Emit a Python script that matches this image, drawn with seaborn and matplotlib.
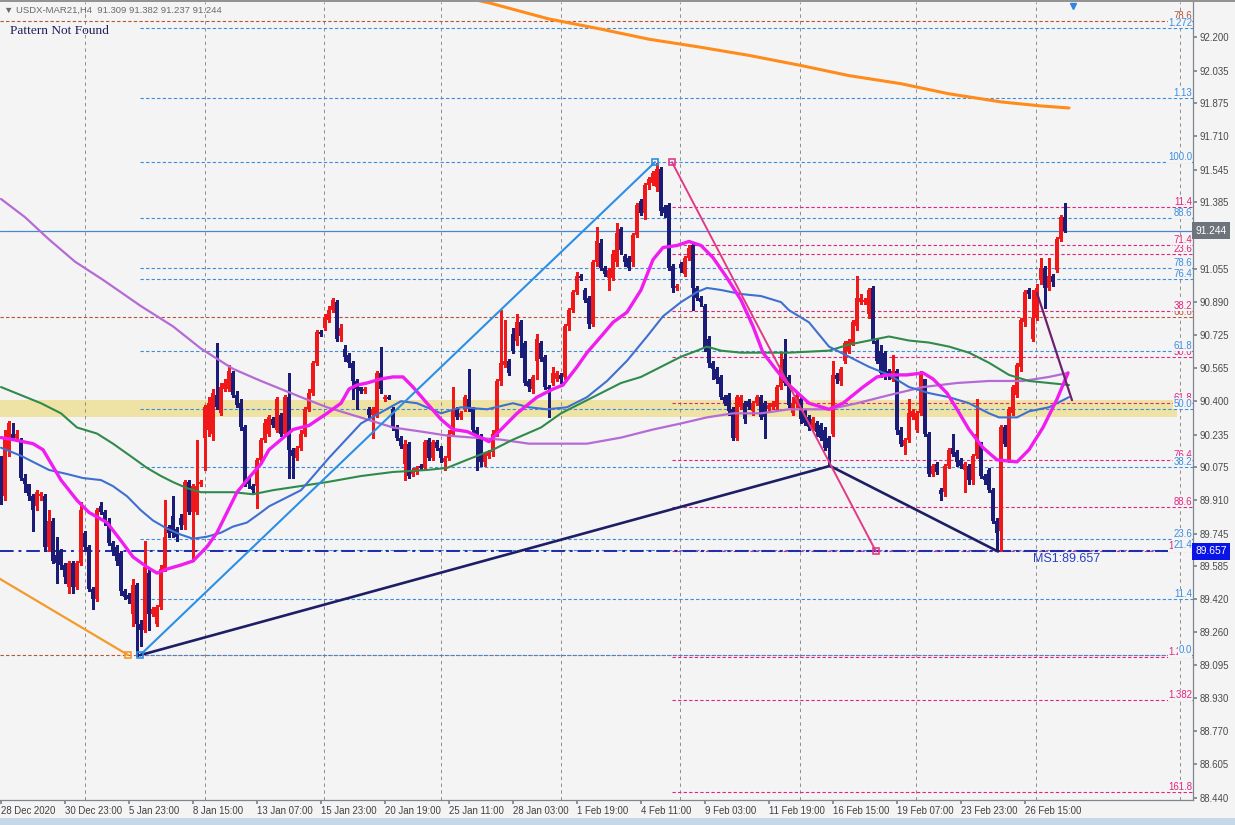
import numpy as np
import pandas as pd
import matplotlib
matplotlib.use("Agg")
import matplotlib.pyplot as plt
import seaborn as sns
from matplotlib.patches import Rectangle
from matplotlib.lines import Line2D

# ---- candles (USDX-MAR21, H4), one entry per bar ----
opens = [
    90.11, 89.93, 90.16, 90.24, 90.22, 90.21, 90.02, 89.99, 89.93, 89.88,
    89.93, 89.93, 89.68, 89.81, 89.64, 89.66, 89.59, 89.48, 89.60, 89.48,
    89.60, 89.75, 89.68, 89.47, 89.42, 89.88, 89.85, 89.81, 89.70, 89.68,
    89.65, 89.46, 89.44, 89.35, 89.49, 89.30, 89.27, 89.55, 89.35, 89.30,
    89.38, 89.57, 89.78, 89.83, 89.77, 89.82, 89.79, 90.00, 89.85, 89.85,
    89.99, 90.22, 90.26, 90.24, 90.43, 90.34, 90.46, 90.46, 90.54, 90.43,
    90.39, 90.27, 90.02, 89.98, 89.98, 90.11, 90.21, 90.24, 90.31, 90.26,
    90.33, 90.24, 90.42, 90.16, 90.12, 90.17, 90.24, 90.36, 90.44, 90.59,
    90.74, 90.76, 90.80, 90.85, 90.89, 90.72, 90.66, 90.63, 90.59, 90.50,
    90.47, 90.45, 90.36, 90.33, 90.33, 90.54, 90.41, 90.42, 90.36, 90.27,
    90.22, 90.09, 90.19, 90.04, 90.05, 90.08, 90.07, 90.21, 90.12, 90.20,
    90.17, 90.10, 90.12, 90.24, 90.36, 90.32, 90.36, 90.41, 90.36, 90.26,
    90.23, 90.10, 90.13, 90.15, 90.24, 90.50, 90.58, 90.60, 90.73, 90.70,
    90.79, 90.69, 90.50, 90.46, 90.60, 90.69, 90.62, 90.47, 90.49, 90.51,
    90.53, 90.52, 90.77, 90.85, 90.94, 91.02, 90.95, 90.91, 90.78, 91.09,
    91.18, 91.06, 91.01, 91.01, 91.09, 91.25, 91.12, 91.11, 91.09, 91.22,
    91.39, 91.33, 91.47, 91.48, 91.46, 91.55, 91.36, 91.37, 91.07, 90.96,
    91.08, 91.03, 91.11, 91.17, 90.96, 90.91, 90.87, 90.71, 90.59, 90.56,
    90.52, 90.42, 90.43, 90.36, 90.22, 90.37, 90.39, 90.40, 90.35, 90.39,
    90.42, 90.39, 90.36, 90.37, 90.37, 90.47, 90.61, 90.52, 90.34, 90.39,
    90.41, 90.35, 90.32, 90.27, 90.29, 90.28, 90.26, 90.22, 90.24, 90.53,
    90.50, 90.60, 90.65, 90.69, 90.77, 90.89, 90.89, 90.83, 90.96, 90.70,
    90.65, 90.64, 90.55, 90.51, 90.55, 90.26, 90.18, 90.21, 90.32, 90.26,
    90.34, 90.51, 90.24, 90.04, 90.09, 89.96, 89.95, 90.08, 90.17, 90.15,
    90.11, 90.06, 90.08, 90.01, 90.13, 90.19, 90.03, 90.06, 89.96, 89.81,
    89.76, 90.27, 90.11, 90.34, 90.43, 90.57, 90.79, 90.95, 90.71, 90.81,
    91.00, 91.06, 90.96, 91.02, 91.05, 91.20, 91.309,
]
highs = [
    90.13, 90.26, 90.30, 90.29, 90.26, 90.22, 90.04, 89.99, 89.94, 89.96,
    89.95, 89.94, 89.86, 89.82, 89.73, 89.67, 89.60, 89.61, 89.61, 89.61,
    89.90, 89.76, 89.69, 89.48, 89.87, 89.90, 89.86, 89.82, 89.71, 89.69,
    89.66, 89.47, 89.45, 89.52, 89.50, 89.32, 89.71, 89.57, 89.38, 89.39,
    89.59, 89.91, 89.79, 89.93, 89.78, 89.84, 90.01, 90.01, 89.99, 90.21,
    90.01, 90.38, 90.42, 90.46, 90.69, 90.49, 90.51, 90.58, 90.55, 90.45,
    90.41, 90.28, 90.03, 89.99, 90.12, 90.22, 90.31, 90.33, 90.32, 90.42,
    90.34, 90.43, 90.54, 90.17, 90.18, 90.26, 90.37, 90.46, 90.60, 90.75,
    90.75, 90.83, 90.87, 90.91, 90.90, 90.78, 90.68, 90.64, 90.60, 90.51,
    90.47, 90.47, 90.37, 90.37, 90.55, 90.67, 90.43, 90.43, 90.37, 90.28,
    90.23, 90.21, 90.20, 90.07, 90.08, 90.09, 90.21, 90.22, 90.21, 90.21,
    90.18, 90.13, 90.26, 90.47, 90.37, 90.35, 90.43, 90.56, 90.37, 90.27,
    90.24, 90.15, 90.16, 90.26, 90.51, 90.85, 90.80, 90.61, 90.76, 90.83,
    90.80, 90.70, 90.51, 90.53, 90.73, 90.70, 90.63, 90.48, 90.57, 90.55,
    90.54, 90.78, 90.86, 90.95, 91.04, 91.03, 90.96, 90.92, 91.10, 91.26,
    91.20, 91.07, 91.06, 91.15, 91.28, 91.26, 91.13, 91.12, 91.23, 91.38,
    91.40, 91.48, 91.51, 91.54, 91.58, 91.56, 91.37, 91.38, 91.08, 90.98,
    91.09, 91.12, 91.17, 91.18, 90.97, 90.92, 90.88, 90.72, 90.60, 90.57,
    90.53, 90.43, 90.44, 90.37, 90.43, 90.43, 90.40, 90.41, 90.40, 90.43,
    90.43, 90.40, 90.39, 90.40, 90.48, 90.64, 90.71, 90.53, 90.42, 90.44,
    90.42, 90.36, 90.33, 90.32, 90.30, 90.29, 90.27, 90.23, 90.60, 90.54,
    90.57, 90.70, 90.71, 90.80, 91.02, 90.93, 90.91, 90.96, 90.97, 90.71,
    90.68, 90.65, 90.56, 90.63, 90.56, 90.27, 90.22, 90.41, 90.36, 90.35,
    90.55, 90.51, 90.25, 90.09, 90.10, 89.97, 90.09, 90.17, 90.24, 90.16,
    90.12, 90.10, 90.09, 90.14, 90.41, 90.20, 90.04, 90.07, 89.97, 89.82,
    90.28, 90.28, 90.37, 90.48, 90.59, 90.81, 90.95, 90.96, 90.95, 90.98,
    91.11, 91.07, 91.11, 91.03, 91.21, 91.32, 91.382,
]
lows = [
    89.89, 89.91, 90.13, 90.21, 90.21, 90.01, 89.95, 89.91, 89.76, 89.86,
    89.91, 89.66, 89.66, 89.60, 89.50, 89.57, 89.50, 89.45, 89.45, 89.47,
    89.59, 89.66, 89.46, 89.37, 89.41, 89.84, 89.79, 89.69, 89.64, 89.59,
    89.44, 89.42, 89.40, 89.29, 89.14, 89.19, 89.26, 89.27, 89.34, 89.29,
    89.37, 89.56, 89.73, 89.73, 89.71, 89.77, 89.77, 89.84, 89.61, 89.84,
    89.98, 90.06, 90.23, 90.21, 90.36, 90.33, 90.45, 90.45, 90.42, 90.37,
    90.26, 89.98, 89.97, 89.94, 89.87, 90.10, 90.20, 90.23, 90.27, 90.25,
    90.23, 90.23, 90.02, 90.02, 90.11, 90.16, 90.23, 90.35, 90.43, 90.58,
    90.72, 90.75, 90.79, 90.84, 90.70, 90.70, 90.60, 90.57, 90.41, 90.36,
    90.44, 90.44, 90.32, 90.22, 90.32, 90.44, 90.40, 90.41, 90.26, 90.21,
    90.17, 90.01, 90.02, 90.03, 90.04, 90.06, 90.06, 90.11, 90.11, 90.16,
    90.10, 90.06, 90.11, 90.23, 90.31, 90.31, 90.35, 90.35, 90.25, 90.06,
    90.08, 90.08, 90.12, 90.13, 90.23, 90.48, 90.57, 90.53, 90.64, 90.68,
    90.62, 90.48, 90.45, 90.44, 90.51, 90.60, 90.46, 90.32, 90.48, 90.50,
    90.49, 90.51, 90.75, 90.84, 90.93, 91.00, 90.89, 90.76, 90.77, 91.07,
    91.05, 91.02, 90.95, 91.00, 91.07, 91.13, 91.07, 91.05, 91.07, 91.21,
    91.32, 91.30, 91.45, 91.47, 91.44, 91.32, 91.31, 91.05, 90.94, 90.95,
    91.04, 91.02, 91.10, 90.85, 90.90, 90.87, 90.65, 90.57, 90.51, 90.49,
    90.41, 90.38, 90.33, 90.21, 90.21, 90.36, 90.29, 90.36, 90.33, 90.38,
    90.31, 90.22, 90.35, 90.36, 90.36, 90.46, 90.48, 90.37, 90.33, 90.37,
    90.29, 90.28, 90.26, 90.26, 90.23, 90.21, 90.16, 90.08, 90.23, 90.49,
    90.48, 90.59, 90.64, 90.68, 90.75, 90.88, 90.88, 90.81, 90.69, 90.59,
    90.52, 90.51, 90.51, 90.50, 90.24, 90.18, 90.14, 90.20, 90.31, 90.25,
    90.33, 90.23, 90.03, 90.03, 90.04, 89.91, 89.93, 90.07, 90.13, 90.08,
    90.07, 89.95, 89.99, 89.99, 90.12, 90.02, 89.99, 89.95, 89.80, 89.66,
    89.66, 90.18, 90.10, 90.33, 90.42, 90.55, 90.77, 90.91, 90.70, 90.80,
    90.98, 90.86, 90.95, 90.97, 91.04, 91.19, 91.237,
]
closes = [
    89.91, 90.22, 90.29, 90.22, 90.24, 90.02, 89.99, 89.93, 89.86, 89.95,
    89.94, 89.68, 89.81, 89.61, 89.60, 89.59, 89.53, 89.60, 89.48, 89.60,
    89.86, 89.68, 89.47, 89.42, 89.86, 89.85, 89.81, 89.70, 89.66, 89.61,
    89.46, 89.43, 89.42, 89.49, 89.30, 89.27, 89.58, 89.35, 89.37, 89.38,
    89.57, 89.73, 89.75, 89.75, 89.73, 89.79, 90.00, 89.85, 89.98, 89.98,
    90.00, 90.37, 90.39, 90.44, 90.37, 90.47, 90.49, 90.55, 90.43, 90.38,
    90.27, 89.99, 89.99, 89.96, 90.11, 90.21, 90.29, 90.32, 90.28, 90.41,
    90.24, 90.42, 90.16, 90.13, 90.17, 90.24, 90.36, 90.44, 90.59, 90.74,
    90.73, 90.81, 90.85, 90.90, 90.71, 90.76, 90.62, 90.59, 90.50, 90.46,
    90.45, 90.46, 90.33, 90.36, 90.54, 90.46, 90.42, 90.41, 90.27, 90.22,
    90.18, 90.19, 90.03, 90.06, 90.07, 90.07, 90.20, 90.12, 90.20, 90.17,
    90.12, 90.12, 90.24, 90.36, 90.32, 90.34, 90.42, 90.36, 90.26, 90.23,
    90.10, 90.14, 90.15, 90.24, 90.50, 90.59, 90.60, 90.54, 90.65, 90.79,
    90.72, 90.49, 90.47, 90.52, 90.71, 90.61, 90.47, 90.46, 90.54, 90.54,
    90.51, 90.77, 90.85, 90.94, 91.02, 91.01, 90.90, 90.78, 91.09, 91.19,
    91.06, 91.03, 91.05, 91.13, 91.23, 91.15, 91.09, 91.06, 91.22, 91.37,
    91.33, 91.47, 91.50, 91.53, 91.55, 91.34, 91.33, 91.06, 90.96, 90.97,
    91.06, 91.11, 91.16, 90.96, 90.91, 90.89, 90.67, 90.59, 90.56, 90.51,
    90.42, 90.39, 90.35, 90.22, 90.42, 90.42, 90.31, 90.37, 90.39, 90.42,
    90.32, 90.32, 90.38, 90.39, 90.47, 90.58, 90.49, 90.38, 90.39, 90.43,
    90.31, 90.29, 90.27, 90.31, 90.25, 90.22, 90.17, 90.17, 90.53, 90.51,
    90.56, 90.69, 90.70, 90.79, 90.91, 90.91, 90.90, 90.95, 90.70, 90.60,
    90.54, 90.53, 90.53, 90.55, 90.26, 90.19, 90.21, 90.34, 90.35, 90.34,
    90.54, 90.24, 90.04, 90.08, 90.05, 89.94, 90.08, 90.16, 90.14, 90.10,
    90.08, 90.09, 90.01, 90.13, 90.24, 90.03, 90.01, 89.96, 89.81, 89.75,
    90.27, 90.19, 90.36, 90.47, 90.58, 90.80, 90.94, 90.93, 90.81, 90.96,
    91.06, 90.96, 91.02, 90.99, 91.20, 91.31, 91.244,
]

# ---- moving averages, sampled along each line (bar, price) ----
mag_x = [0, 3, 8, 10.5, 15, 19, 22, 26.5, 30, 33, 36.5, 39, 41.5, 45, 48, 51.5, 54, 56.5, 59, 61.5,
         65, 67, 73, 77, 81.5, 85, 87, 89, 91.5, 95, 98, 100.5, 103, 106.5, 110, 113, 116.5, 120, 122, 125,
         129, 134, 138, 140.5, 144, 146.5, 150, 153, 156.5, 160, 163, 165.5, 169, 172, 175, 178, 181.5, 185, 188, 190.5,
         194, 197, 202, 207, 210.5, 215.5, 219, 222, 226.5, 230.5, 233, 236.5, 239, 242, 245.5, 249, 254, 257, 260.5, 264,
         266.75]
mag_y = [90.22, 90.21, 90.19, 90.16, 90.01, 89.91, 89.85, 89.80, 89.71, 89.63, 89.58, 89.55, 89.57, 89.59, 89.61, 89.68, 89.75, 89.85, 89.95, 90.01,
         90.09, 90.16, 90.26, 90.28, 90.34, 90.39, 90.46, 90.48, 90.49, 90.51, 90.52, 90.52, 90.47, 90.39, 90.31, 90.26, 90.25, 90.22, 90.20, 90.26,
         90.34, 90.42, 90.46, 90.48, 90.57, 90.64, 90.72, 90.79, 90.84, 90.95, 91.10, 91.16, 91.17, 91.19, 91.17, 91.11, 91.01, 90.90, 90.77, 90.64,
         90.55, 90.48, 90.39, 90.36, 90.39, 90.47, 90.52, 90.53, 90.53, 90.54, 90.51, 90.44, 90.36, 90.26, 90.17, 90.11, 90.10, 90.16, 90.27, 90.41,
         90.54]

blue_x = [0, 5, 8, 12, 16.5, 20.5, 25, 28, 31.5, 35, 38, 41.5, 45, 48, 51.5, 55, 58, 61.5, 65, 67,
          75, 82, 90, 100, 104, 110, 115, 121.5, 128, 132, 136.5, 141.5, 146.5, 151.5, 156.5, 161.5, 165.5, 170, 174, 176.5,
          180, 185, 190, 195, 197, 202, 207, 212, 217, 222, 227, 232, 237, 242, 247, 249.5, 254, 257, 262, 267]
blue_y = [90.17, 90.13, 90.10, 90.06, 90.04, 90.02, 90.01, 89.98, 89.93, 89.86, 89.81, 89.77, 89.74, 89.72, 89.73, 89.75, 89.78, 89.80, 89.85, 89.88,
          89.96, 90.12, 90.29, 90.40, 90.39, 90.34, 90.37, 90.36, 90.39, 90.37, 90.36, 90.37, 90.42, 90.50, 90.60, 90.72, 90.82, 90.89, 90.94, 90.96,
          90.95, 90.93, 90.92, 90.89, 90.85, 90.79, 90.67, 90.62, 90.57, 90.53, 90.47, 90.44, 90.42, 90.39, 90.34, 90.32, 90.32, 90.35, 90.37, 90.42]

green_x = [0, 5, 10, 15, 19, 24, 28, 33, 36.5, 40, 43, 46.5, 50, 54, 58, 63, 68, 81.5, 90, 98,
           106.5, 111.5, 116.5, 123, 128, 135, 140, 145, 150, 155, 160, 165, 170, 174, 176.5, 180, 185, 190, 197, 207,
           212, 217, 222, 227, 232, 237, 242, 247, 252, 257, 262, 267]
green_y = [90.47, 90.43, 90.39, 90.34, 90.27, 90.24, 90.19, 90.12, 90.07, 90.03, 90.00, 89.97, 89.95, 89.95, 89.95, 89.94, 89.96, 90.00, 90.03, 90.05,
           90.06, 90.07, 90.11, 90.16, 90.21, 90.27, 90.34, 90.39, 90.44, 90.49, 90.52, 90.57, 90.62, 90.65, 90.67, 90.65, 90.64, 90.64, 90.64, 90.65,
           90.68, 90.70, 90.72, 90.70, 90.69, 90.67, 90.64, 90.59, 90.53, 90.50, 90.49, 90.48]

purple_x = [0, 6, 12, 18.5, 25.5, 35, 43, 50, 58, 65, 70, 75, 81.5, 86.5, 91.5, 98, 105, 111.5, 118, 125,
            132, 138, 146.5, 155, 163, 170, 176.5, 183, 190, 197, 207, 214, 222, 230.5, 239, 247, 255.5, 262, 266.75]
purple_y = [91.40, 91.31, 91.20, 91.09, 91.00, 90.87, 90.77, 90.66, 90.56, 90.50, 90.46, 90.42, 90.37, 90.34, 90.31, 90.27, 90.25, 90.23, 90.22, 90.21,
            90.19, 90.19, 90.19, 90.22, 90.26, 90.29, 90.32, 90.34, 90.34, 90.36, 90.36, 90.39, 90.43, 90.47, 90.49, 90.50, 90.50, 90.52, 90.54]

orange_x = [115, 122, 137, 150, 162, 175, 187, 200, 212, 225, 237, 250, 260, 267]
orange_y = [92.40, 92.37, 92.29, 92.24, 92.19, 92.15, 92.11, 92.06, 92.01, 91.97, 91.92, 91.88, 91.86, 91.85]

# ---- drawn objects ----
zz_x, zz_y = [-1.0, 31.75], [89.53, 89.145]                          # orange zigzag leg
tl_blue_x, tl_blue_y = [34.75, 163.5], [89.144, 91.582]              # light blue trendline
tl_navy_x, tl_navy_y = [34.75, 207.25, 249.25], [89.144, 90.08, 89.657]
tl_pink_x, tl_pink_y = [167.75, 218.75], [91.582, 89.657]
tl_purple_x, tl_purple_y = [259.0, 267.75], [90.935, 90.405]

blue_fib_low, blue_fib_high = 89.144, 91.582
blue_fib_ratios = [0, 11.4, 21.4, 23.6, 38.2, 50.0, 61.8, 76.4, 78.6, 88.6, 100.0, 113.0, 127.2]
blue_fib_labels = ["0.0", "11.4", "21.4", "23.6", "38.2", "50.0", "61.8", "76.4", "78.6", "88.6", "100.0", "1.13", "1.272"]
pink_fib_high, pink_fib_low = 91.582, 89.657
pink_fib_ratios = [11.4, 23.6, 38.2, 50.0, 61.8, 76.4, 88.6, 100.0, 127.2, 138.2, 161.8]
pink_fib_labels = ["11.4", "23.6", "38.2", "50.0", "61.8", "76.4", "88.6", "100.0", "1.272", "1.382", "161.8"]
pink_extra_levels, pink_extra_labels = [91.172], ["71.4"]
brown_levels, brown_labels = [92.28, 90.816, 89.145], ["78.6", "66.6", ""]

band_low, band_high = 90.32, 90.406
last_price, ms1_price = 91.244, 89.657

x_tick_bars = [0, 16, 32, 48, 64, 80, 96, 112, 128, 144, 160, 176, 192, 208, 224, 240, 256]
x_tick_labels = ["28 Dec 2020", "30 Dec 23:00", "5 Jan 23:00", "8 Jan 15:00", "13 Jan 07:00", "15 Jan 23:00",
                 "20 Jan 19:00", "25 Jan 11:00", "28 Jan 03:00", "1 Feb 19:00", "4 Feb 11:00", "9 Feb 03:00",
                 "11 Feb 19:00", "16 Feb 15:00", "19 Feb 07:00", "23 Feb 23:00", "26 Feb 15:00"]
y_ticks = [92.200, 92.035, 91.875, 91.710, 91.545, 91.385, 91.220, 91.055, 90.890, 90.725, 90.565, 90.400,
           90.235, 90.075, 89.910, 89.745, 89.585, 89.420, 89.260, 89.095, 88.930, 88.770, 88.605, 88.440]
grid_bars = [21, 51, 80.75, 110, 140, 169.75, 199.75, 228.75, 258.75, 294.75]

# ---- style ----
BG = "#f4f4f4"
RED, NAVY = "#f01818", "#1b1b78"
FIB_BLUE, FIB_PINK, FIB_BROWN = "#3b8de0", "#e3247f", "#b5543a"
LBL = 6.9

sns.set_theme(style="white")
plt.rcParams["font.family"] = ["Liberation Sans", "DejaVu Sans"]

fig = plt.figure(figsize=(12.35, 8.25), dpi=100)
fig.patch.set_facecolor(BG)
ax = fig.add_axes([0, 25 / 825, 1193 / 1235, 798 / 825])
ax.set_facecolor(BG)
ax.set_xlim(-0.25, 298)
ax.set_ylim(88.428, 92.374)

# yellow zone and grid
ax.axhspan(band_low, band_high, xmin=0, xmax=294.25 / 298.25, color="#eee3a4", zorder=0.5, lw=0)
for gx in grid_bars:
    ax.axvline(gx, color="#8e8e8e", lw=0.7, ls=(0, (3.5, 3.5)), zorder=0.6)

# fibonacci levels
blue_levels = [blue_fib_low + r / 100 * (blue_fib_high - blue_fib_low) for r in blue_fib_ratios]
pink_levels = [pink_fib_high - r / 100 * (pink_fib_high - pink_fib_low) for r in pink_fib_ratios]
ax.hlines(brown_levels, -0.25, 298, colors=FIB_BROWN, lw=0.8, linestyles=(0, (3, 2)), zorder=1)
ax.hlines(blue_levels, 34.75, 298, colors=FIB_BLUE, lw=0.8, linestyles=(0, (3, 2)), zorder=1.2)
ax.hlines(pink_levels + pink_extra_levels, 167.75, 298, colors=FIB_PINK, lw=0.8, linestyles=(0, (3, 2)), zorder=1.3)
ax.axhline(ms1_price, color="#1c2bb0", lw=1.4, ls=(0, (7, 2.5, 1.5, 2.5)), zorder=1.4)
ax.axhline(last_price, color="#4a86d6", lw=0.9, zorder=1.4)

# level captions sit on their lines; later ones mask earlier ones as in the terminal
ytr = ax.get_yaxis_transform()
for val, lab in zip(brown_levels, brown_labels):
    if lab:
        ax.text(0.9992, val, lab, transform=ytr, ha="right", va="bottom", fontsize=LBL,
                color=FIB_BROWN, zorder=8, bbox=dict(fc=BG, ec="none", pad=0.3))
for val, lab in zip(pink_levels + pink_extra_levels, pink_fib_labels + pink_extra_labels):
    ax.text(0.9992, val, lab, transform=ytr, ha="right", va="bottom", fontsize=LBL,
            color=FIB_PINK, zorder=9, bbox=dict(fc=BG, ec="none", pad=0.3))
for val, lab in zip(blue_levels, blue_fib_labels):
    ax.text(0.9992, val, lab, transform=ytr, ha="right", va="bottom", fontsize=LBL,
            color=FIB_BLUE, zorder=10, bbox=dict(fc=BG, ec="none", pad=0.3))

# candles
df = pd.DataFrame({"o": opens, "h": highs, "l": lows, "c": closes})
df["bar"] = np.arange(len(df))
up = df["c"] >= df["o"]
cols = np.where(up, RED, NAVY)
ax.vlines(df["bar"], df["l"], df["h"], colors=cols, lw=0.8, zorder=3, antialiased=False)
ax.bar(df["bar"], (df["c"] - df["o"]).abs().clip(lower=0.006), bottom=np.minimum(df["o"], df["c"]),
       width=0.76, color=cols, linewidth=0, zorder=3.1, antialiased=False)

# moving averages
sns.lineplot(x=purple_x, y=purple_y, ax=ax, color="#b56ad6", lw=1.6, sort=False, estimator=None, zorder=4)
sns.lineplot(x=green_x, y=green_y, ax=ax, color="#2f8a4c", lw=1.5, sort=False, estimator=None, zorder=4.1)
sns.lineplot(x=blue_x, y=blue_y, ax=ax, color="#3f6fd0", lw=1.5, sort=False, estimator=None, zorder=4.2)
sns.lineplot(x=mag_x, y=mag_y, ax=ax, color="#f01cf0", lw=2.4, sort=False, estimator=None, zorder=4.3)
sns.lineplot(x=orange_x, y=orange_y, ax=ax, color="#ff8c1a", lw=2.2, sort=False, estimator=None, zorder=4.4)

# trendlines and anchors
sns.lineplot(x=zz_x, y=zz_y, ax=ax, color="#f39a2a", lw=1.6, sort=False, estimator=None, zorder=5)
sns.lineplot(x=tl_blue_x, y=tl_blue_y, ax=ax, color="#2c8fe6", lw=1.5, sort=False, estimator=None, zorder=5)
sns.lineplot(x=tl_navy_x, y=tl_navy_y, ax=ax, color="#1e1e66", lw=1.9, sort=False, estimator=None, zorder=5)
sns.lineplot(x=tl_pink_x, y=tl_pink_y, ax=ax, color="#e23a86", lw=1.4, sort=False, estimator=None, zorder=5)
sns.lineplot(x=tl_purple_x, y=tl_purple_y, ax=ax, color="#6e1f6e", lw=1.6, sort=False, estimator=None, zorder=5)
ax.plot(tl_blue_x, tl_blue_y, ls="none", marker="s", ms=4, mfc="none", mec="#2c8fe6", mew=1.2, zorder=6)
ax.plot(tl_pink_x, tl_pink_y, ls="none", marker="s", ms=4, mfc="none", mec="#e23a86", mew=1.2, zorder=6)
ax.plot(zz_x[-1:], zz_y[-1:], ls="none", marker="s", ms=4, mfc="none", mec="#f39a2a", mew=1.2, zorder=6)
ax.plot([268], [0.995], marker="v", ms=5, color="#2f86e0", transform=ax.get_xaxis_transform(), clip_on=False)

ax.text(258, 89.62, "MS1:89.657", color="#2a3fc0", fontsize=9, va="center", ha="left", zorder=9)

# axes
ax.yaxis.tick_right()
ax.set_yticks(y_ticks)
ax.set_yticklabels([f"{v:.3f}" for v in y_ticks])
ax.set_xticks(x_tick_bars)
ax.set_xticklabels(x_tick_labels, ha="left")
ax.tick_params(axis="y", right=True, length=3, pad=2, labelsize=LBL, colors="#7f868e", labelcolor="#4a4a4a")
ax.tick_params(axis="x", bottom=True, length=3, pad=1.5, labelsize=LBL, colors="#7f868e", labelcolor="#404040")
ax.set_xlabel("")
ax.set_ylabel("")
for side in ("left", "top"):
    ax.spines[side].set_visible(False)
for side in ("right", "bottom"):
    ax.spines[side].set_color("#7f868e")
    ax.spines[side].set_linewidth(0.9)

for val, face in ((last_price, "#6e747c"), (ms1_price, "#0a14e6")):
    ax.text(1.002, val, f"{val:.3f}", transform=ytr, ha="left", va="center", fontsize=7.4, color="white",
            zorder=11, clip_on=False, bbox=dict(boxstyle="square,pad=0.3", fc=face, ec="none"))

fig.text(4 / 1235, 1 - 10 / 825, "\u25bc USDX-MAR21,H4  91.309 91.382 91.237 91.244", fontsize=6.8,
         color="#6a6a6a", va="center", ha="left")
fig.text(10 / 1235, 1 - 31 / 825, "Pattern Not Found", fontsize=9.6, color="#1d1d5c", va="center", ha="left",
         family=["Liberation Serif", "DejaVu Serif"])
fig.add_artist(Rectangle((0, 0), 1, 7 / 825, transform=fig.transFigure, color="#c6d7e8", lw=0))
fig.add_artist(Line2D([0, 1], [1 - 0.8 / 825, 1 - 0.8 / 825], transform=fig.transFigure, color="#808080", lw=1.2))

fig.savefig("out.png", dpi=100, facecolor=BG)
